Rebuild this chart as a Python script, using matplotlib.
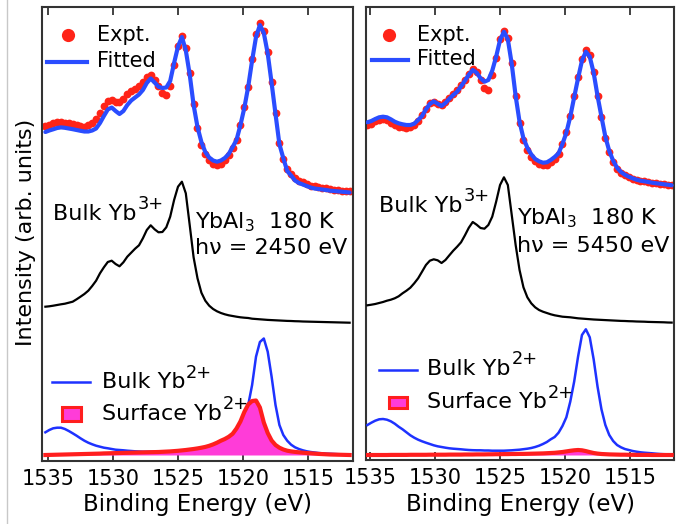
import numpy as np
import matplotlib
matplotlib.use("Agg")
import matplotlib.pyplot as plt
from matplotlib.lines import Line2D
from matplotlib.patches import Rectangle
from matplotlib.transforms import offset_copy

plt.rcParams['font.family'] = ['DejaVu Sans']
plt.rcParams['mathtext.fontset'] = 'dejavusans'

# ---------------- data (binding energy grid, eV) ----------------
energy = np.linspace(1535.2, 1511.8, 79)

# hv = 2450 eV panel
expt_left = [335, 336.5, 338, 339, 339.5, 338.5, 338, 337, 336, 335,
             334.5, 336, 338.5, 342, 348, 355, 360.5, 361, 359.5, 359,
             362.5, 367, 370, 372.5, 375.5, 379, 384, 386, 381, 375.5,
             368, 366.5, 375, 396, 415, 425, 413, 388, 357, 333,
             316.5, 307, 301, 297.5, 296, 297.5, 301, 306, 313, 321.5,
             336, 354, 374, 402, 427, 438, 430, 409, 379, 348,
             318, 302, 292.5, 287, 283, 280.5, 279, 277.5, 275.5, 275,
             274, 273, 273, 272, 271.5, 271.5, 270.5, 270.5, 270]
fit_left = [329, 330.5, 331.7, 333, 333.6, 333.2, 332.5, 331.8, 331, 330.2,
            329.5, 329.5, 330.5, 332.5, 338, 345, 351.5, 353.5, 350, 347,
            350, 356, 360.5, 363.5, 366.5, 371, 378, 382.5, 378.5, 374.3,
            373, 373.5, 380, 398, 414.5, 424, 410.7, 386.5, 356, 334,
            319, 309, 303.5, 300.5, 299.3, 300.5, 303, 307, 314, 321,
            335.8, 353, 374.3, 400.5, 424, 436, 428, 407.6, 378, 347,
            316.8, 302.8, 290, 285.5, 280.5, 278, 276.5, 275, 273.5, 272.5,
            272, 271.5, 271, 270.3, 270, 269.6, 269.3, 268.9, 268.5]
bulk3_left = [154.3, 154.7, 155.3, 156, 156.7, 157.3, 158.3, 159.3, 161.7, 164.3,
              167, 170.3, 175, 180.3, 187.7, 193.7, 199, 200.3, 197, 194.7,
              198.7, 204.3, 208.3, 212.3, 215.7, 222.7, 231, 235.7, 231.7, 228.7,
              229, 233.7, 244.3, 261, 274.3, 279.3, 267.7, 236, 203.7, 182.7,
              168.3, 160.3, 155.3, 152, 149.7, 148, 146.7, 145.7, 145, 144.3,
              143.7, 143.3, 143, 142.3, 142, 141.7, 141.4, 141.1, 140.9, 140.7,
              140.5, 140.3, 140.1, 140, 139.8, 139.7, 139.5, 139.4, 139.3, 139.2,
              139.1, 139, 138.9, 138.8, 138.7, 138.6, 138.5, 138.4, 138.3]
bulk2_left = [28.7, 31, 32.7, 33.3, 33.3, 32, 30, 27.7, 25.3, 22.7,
              20.3, 18.3, 16.7, 15.3, 14.3, 13.3, 12.7, 12, 11.3, 11,
              10.7, 10.3, 10, 9.7, 9.5, 9.3, 9.3, 9.3, 9.3, 9.3,
              9.3, 9.3, 9.5, 9.7, 9.8, 10, 10.3, 10.7, 11, 11.7,
              12.3, 13, 13.7, 14.7, 15.7, 17, 18.7, 21, 24.3, 29.3,
              36.7, 44.3, 56, 76, 104.3, 119, 122.5, 109.3, 84.3, 56,
              36, 26, 20.3, 16.3, 13.7, 12, 10.7, 9.7, 9, 8.5,
              8, 7.7, 7.3, 7.2, 7, 6.8, 6.7, 6.5, 6.3]
surf_left = [6.0, 6.1, 6.2, 6.3, 6.4, 6.5, 6.6, 6.7, 6.8, 6.9,
             7.0, 7.1, 7.2, 7.3, 7.4, 7.6, 7.7, 7.8, 7.9, 8.0,
             8.1, 8.2, 8.3, 8.4, 8.5, 8.6, 8.7, 8.8, 8.9, 9.0,
             9.2, 9.4, 9.6, 9.9, 10.2, 10.6, 11.0, 11.5, 12.0, 12.6,
             13.3, 14.1, 15.2, 16.6, 18.3, 20.3, 22, 24.2, 27.2, 32.5,
             39.5, 49, 56.5, 60, 60.5, 53.5, 38.5, 28, 20.5, 16,
             13.3, 11.5, 10.3, 9.6, 9.1, 8.7, 8.3, 8.0, 7.7, 7.4,
             7.1, 6.9, 6.7, 6.5, 6.4, 6.3, 6.2, 6.1, 6.0]

# hv = 5450 eV panel
expt_right = [335.5, 336.5, 339, 340.5, 341.5, 340, 337.5, 335, 333.5, 333,
              332.5, 333, 335, 339, 345, 351.5, 357, 358, 356.5, 355.5,
              358.5, 362, 366.5, 370, 375, 380, 386.5, 391, 388, 380,
              372, 370, 385, 402, 421, 429.5, 422, 397, 364, 337,
              320, 310.5, 303.5, 299, 296, 295, 295.5, 298, 301.5, 306,
              316, 328, 344, 364, 383, 401.5, 410.5, 405, 388, 364.5,
              343, 322.5, 308, 298.5, 291.5, 287.5, 285, 283, 281.5, 280.5,
              279.5, 279, 278.5, 277.5, 277, 276.5, 276, 275.5, 275]
fit_right = [337.7, 339, 341, 342.7, 343.3, 342.7, 340.7, 338.3, 336.7, 335.7,
             335, 335, 336.3, 340, 344, 350.7, 356, 358.7, 356.3, 354,
             357, 361.3, 365, 368.3, 373.7, 379.3, 385.3, 390, 387.3, 381.7,
             378.3, 380, 389.3, 403.3, 420, 428.3, 420.7, 396, 364, 338.3,
             321.7, 312.3, 305.7, 301, 298.7, 297.3, 297.7, 300, 303, 306.7,
             316, 327.3, 343.3, 362.7, 381.7, 399.3, 408.3, 403.3, 387.3, 364,
             343.3, 323.3, 309, 299.3, 292.3, 288, 285.3, 283.3, 281.7, 280.3,
             279.3, 278.7, 278, 277.3, 276.7, 276.3, 275.7, 275.3, 274.7]
bulk3_right = [154.7, 155.3, 156, 157, 158, 159.3, 160.3, 161.7, 163.7, 166.7,
               169.3, 172.3, 176.7, 181.7, 188.3, 195, 199.3, 200.7, 199.7, 197,
               200, 204.7, 209.3, 213.3, 217.7, 224.7, 232.3, 238, 235.3, 232,
               231.3, 235, 243.3, 258.3, 275, 282.7, 275, 245, 215, 190,
               172.7, 162.7, 156.7, 152.7, 150, 148.3, 147, 145.7, 144.7, 144,
               143.3, 143, 142.7, 142.2, 141.7, 141.4, 141.1, 140.8, 140.5, 140.3,
               140.1, 139.9, 139.7, 139.5, 139.3, 139.1, 139, 138.8, 138.7, 138.5,
               138.4, 138.3, 138.1, 138, 137.9, 137.8, 137.7, 137.5, 137.4]
bulk2_right = [35, 37.3, 39.3, 40.7, 41, 40.3, 38.7, 36.3, 33.3, 30.7,
               27.7, 24.7, 22.3, 20.3, 18.7, 17.3, 16, 14.7, 13.7, 13,
               12.3, 11.7, 11.3, 11, 10.7, 10.3, 10, 9.8, 9.7, 9.7,
               9.5, 9.5, 9.3, 9.3, 9.3, 9.3, 9.5, 9.7, 10, 10.3,
               10.8, 11.3, 12, 13, 14.3, 16, 18, 20.7, 23, 27.3,
               34, 42.7, 58.3, 78.3, 103.3, 125, 130.7, 122.7, 100.7, 73.3,
               50.7, 35, 25, 19, 15, 12.7, 11, 10, 9, 8.3,
               7.7, 7.3, 7, 6.7, 6.3, 6, 5.8, 5.7, 5.3]
surf_right = [5.0, 5.0, 5.0, 5.0, 5.0, 5.0, 5.1, 5.1, 5.1, 5.1,
              5.1, 5.2, 5.2, 5.2, 5.2, 5.2, 5.3, 5.3, 5.3, 5.3,
              5.3, 5.4, 5.4, 5.4, 5.4, 5.5, 5.5, 5.5, 5.6, 5.6,
              5.6, 5.7, 5.7, 5.8, 5.8, 5.9, 5.9, 6.0, 6.0, 6.1,
              6.1, 6.2, 6.3, 6.4, 6.5, 6.6, 6.8, 7.0, 7.2, 7.6,
              8.0, 8.6, 9.2, 9.7, 10.0, 9.7, 8.9, 7.9, 7.0, 6.4,
              6.0, 5.8, 5.6, 5.5, 5.4, 5.3, 5.3, 5.2, 5.2, 5.1,
              5.1, 5.1, 5.1, 5.0, 5.0, 5.0, 5.0, 5.0, 5.0]

photon_energies = ['2450', '5450']
xticks = [1535, 1530, 1525, 1520, 1515]

# ---------------- styling ----------------
RED = '#ff2418'
BLUE_FIT = '#2a4dff'
BLUE_B2 = '#1e32ff'
MAGENTA = '#ff3cd8'
SURF_EDGE = '#ff1e1e'
SPINE = '#333333'

fig = plt.figure(figsize=(6.78, 5.24), dpi=100)
axL = fig.add_axes([42 / 678, 63 / 524, 311 / 678, 454 / 524])
axR = fig.add_axes([366 / 678, 64 / 524, 308 / 678, 453 / 524])
renderer = fig.canvas.get_renderer()

# faint frame line at the left edge of the picture
fig.add_artist(Line2D([6.5 / 678, 6.5 / 678], [0, 1], color='#c8c8c8', lw=1.0,
                      transform=fig.transFigure))


def text_with_sup(ax, xy, base, sup, fs=16, sfs=12.8, rise=10.5):
    """Base text at baseline xy (axes fraction) followed by a raised superscript."""
    t = ax.text(*xy, base, transform=ax.transAxes, fontsize=fs, va='baseline',
                ha='left', zorder=7)
    bb = t.get_window_extent(renderer)
    tr = offset_copy(ax.transAxes, fig=fig, x=bb.width + 1.0, y=rise, units='dots')
    ax.text(*xy, sup, transform=tr, fontsize=sfs, va='baseline', ha='left', zorder=7)


panels = [
    dict(ax=axL, expt=expt_left, fit=fit_left, b3=bulk3_left, b2=bulk2_left,
         s=surf_left, hv=photon_energies[0], xlim=(1535.46, 1511.54), ylim=(0, 454),
         lay=dict(expt_m=(0.085, 0.938), expt_t=(0.178, 0.926),
                  fit_l=(0.017, 0.144, 0.879), fit_t=(0.178, 0.867),
                  b2_l=(0.032, 0.154, 0.175), b2_t=(0.192, 0.160),
                  s_p=(0.063, 0.089, 0.062, 0.030), s_t=(0.192, 0.091),
                  b3_t=(0.036, 0.531), yb_t=(0.492, 0.513), hv_t=(0.492, 0.457))),
    dict(ax=axR, expt=expt_right, fit=fit_right, b3=bulk3_right, b2=bulk2_right,
         s=surf_right, hv=photon_energies[1], xlim=(1535.31, 1511.62), ylim=(0, 453),
         lay=dict(expt_m=(0.076, 0.938), expt_t=(0.167, 0.925),
                  fit_l=(0.019, 0.136, 0.883), fit_t=(0.167, 0.871),
                  b2_l=(0.041, 0.166, 0.199), b2_t=(0.198, 0.188),
                  s_p=(0.074, 0.114, 0.059, 0.026), s_t=(0.198, 0.114),
                  b3_t=(0.041, 0.548), yb_t=(0.490, 0.519), hv_t=(0.490, 0.460))),
]

for p in panels:
    ax = p['ax']
    L = p['lay']
    s = np.asarray(p['s'])
    ax.plot(energy, p['expt'], 'o', ms=5.6, color=RED, mec='none', zorder=2)
    ax.plot(energy, p['fit'], '-', lw=3.0, color=BLUE_FIT, zorder=3,
            solid_capstyle='round')
    ax.plot(energy, p['b3'], '-', lw=1.6, color='black', zorder=3)
    ax.plot(energy, p['b2'], '-', lw=1.8, color=BLUE_B2, zorder=3)
    ax.fill_between(energy, s, s.min(), color=MAGENTA, lw=0, zorder=4)
    ax.plot(energy, s, '-', lw=3.0, color=SURF_EDGE, zorder=5)

    ax.set_xticks(xticks)
    ax.set_yticks([])
    ax.set_xlim(*p['xlim'])
    ax.set_ylim(*p['ylim'])
    ax.tick_params(axis='x', direction='in', top=True, bottom=True, length=6,
                   width=1.3, color=SPINE, labelsize=15, pad=6)
    for sp in ax.spines.values():
        sp.set_color(SPINE)
        sp.set_linewidth(1.5)
    ax.set_xlabel('Binding Energy (eV)', fontsize=16.5, labelpad=3)

    T = ax.transAxes
    tk = dict(transform=T, va='baseline', zorder=7)
    # upper legend
    ax.plot([L['expt_m'][0]], [L['expt_m'][1]], 'o', ms=9.5, color=RED, mec='none',
            transform=T, clip_on=False)
    ax.text(*L['expt_t'], 'Expt.', fontsize=15, **tk)
    ax.plot(L['fit_l'][:2], [L['fit_l'][2]] * 2, '-', lw=3.0, color=BLUE_FIT,
            transform=T, clip_on=False)
    ax.text(*L['fit_t'], 'Fitted', fontsize=15, **tk)
    # lower legend
    ax.plot(L['b2_l'][:2], [L['b2_l'][2]] * 2, '-', lw=1.8, color=BLUE_B2,
            transform=T, clip_on=False)
    text_with_sup(ax, L['b2_t'], 'Bulk Yb', '2+')
    x0, y0, w, h = L['s_p']
    ax.add_patch(Rectangle((x0, y0), w, h, transform=T, facecolor=MAGENTA,
                           edgecolor=SURF_EDGE, lw=2.2, clip_on=False, zorder=6))
    text_with_sup(ax, L['s_t'], 'Surface Yb', '2+')
    # annotations
    text_with_sup(ax, L['b3_t'], 'Bulk Yb', '3+')
    ax.text(*L['yb_t'], r'$\mathregular{YbAl_3}$  180 K', fontsize=16, **tk)
    ax.text(*L['hv_t'], 'h\u03bd = %s eV' % p['hv'], fontsize=16, **tk)

fig.text(26 / 678, 1 - 232 / 524, 'Intensity (arb. units)', rotation=90,
         ha='center', va='center', fontsize=16)

fig.savefig('out.png', dpi=100)
